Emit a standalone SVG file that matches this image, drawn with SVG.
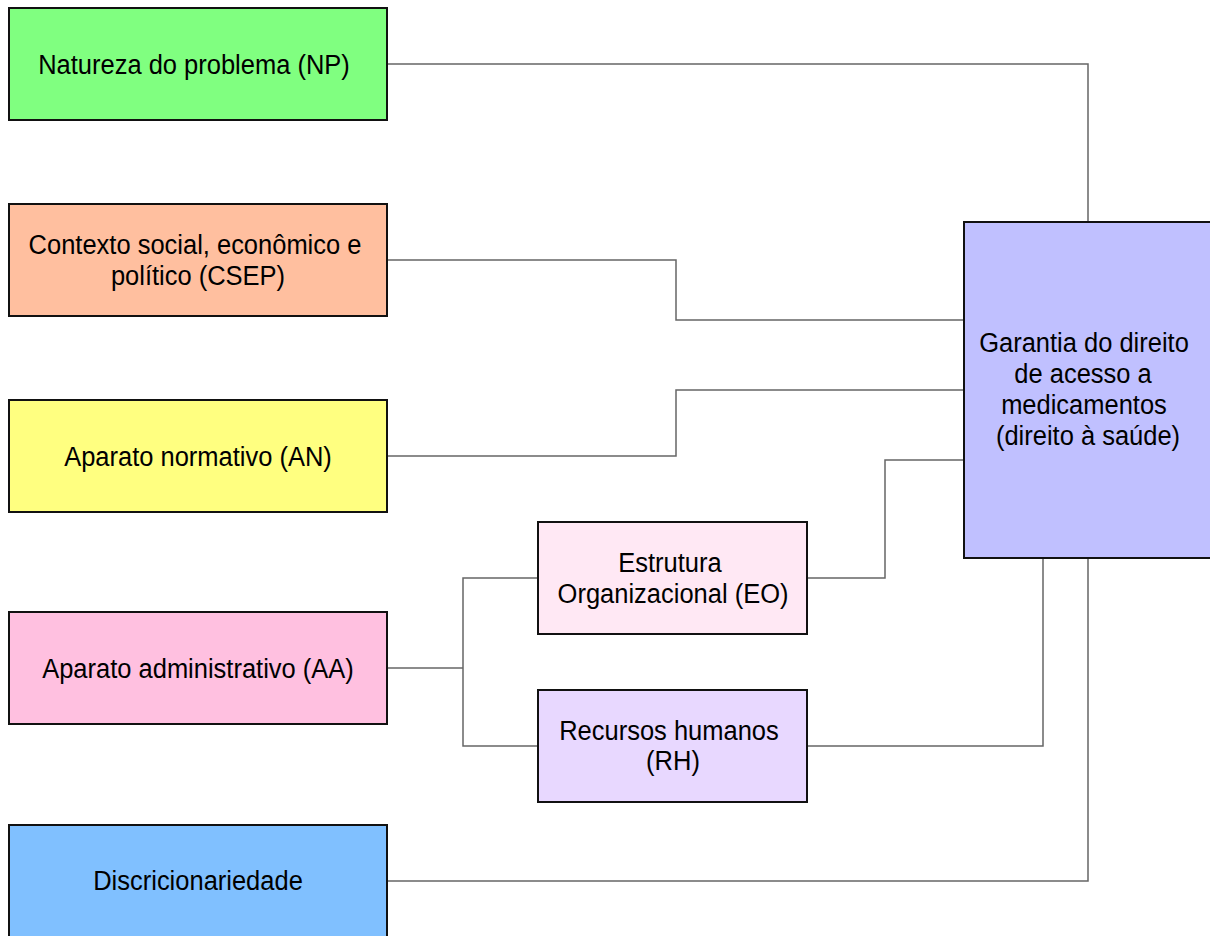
<svg xmlns="http://www.w3.org/2000/svg" width="1210" height="936" viewBox="0 0 1210 936">
<style>
.box{stroke:#111;stroke-width:2}
.t{font-family:"Liberation Sans",Arial,sans-serif;font-size:25.5px;fill:#000;text-anchor:middle}
.c{fill:none;stroke:#666;stroke-width:1.5}
</style>
<rect width="1210" height="936" fill="#fff"/>
<g id="connectors">
<polyline class="c" points="387,64 1088,64 1088,222"/>
<polyline class="c" points="387,260 676,260 676,320 964,320"/>
<polyline class="c" points="387,456 676,456 676,390 964,390"/>
<polyline class="c" points="807,578 885,578 885,460 964,460"/>
<polyline class="c" points="387,668 463,668"/>
<polyline class="c" points="538,578 463,578 463,746 538,746"/>
<polyline class="c" points="807,746 1043,746 1043,558"/>
<polyline class="c" points="387,881 1088,881 1088,558"/>
</g>
<g id="np"><rect class="box" x="9" y="8" width="378" height="112" fill="#80ff80"/><text class="t" transform="translate(194,73.5) scale(1,1.09)">Natureza do problema (NP)</text></g>
<g id="csep"><rect class="box" x="9" y="204" width="378" height="112" fill="#ffbf9f"/><text class="t" transform="translate(195,254) scale(1,1.09)">Contexto social, econômico e</text><text class="t" transform="translate(198,285) scale(1,1.09)">político (CSEP)</text></g>
<g id="an"><rect class="box" x="9" y="400" width="378" height="112" fill="#ffff80"/><text class="t" transform="translate(198,465.5) scale(1,1.09)">Aparato normativo (AN)</text></g>
<g id="aa"><rect class="box" x="9" y="612" width="378" height="112" fill="#ffc0e0"/><text class="t" transform="translate(198,677.5) scale(1,1.09)">Aparato administrativo (AA)</text></g>
<g id="disc"><rect class="box" x="9" y="825" width="378" height="130" fill="#80c0ff"/><text class="t" transform="translate(198,890) scale(1,1.09)">Discricionariedade</text></g>
<g id="eo"><rect class="box" x="538" y="522" width="269" height="112" fill="#ffe8f4"/><text class="t" transform="translate(670,572) scale(1,1.09)">Estrutura</text><text class="t" transform="translate(673,603) scale(1,1.09)">Organizacional (EO)</text></g>
<g id="rh"><rect class="box" x="538" y="690" width="269" height="112" fill="#e8d8ff"/><text class="t" transform="translate(669,740) scale(1,1.09)">Recursos humanos</text><text class="t" transform="translate(673,770) scale(1,1.09)">(RH)</text></g>
<g id="garantia"><rect class="box" x="964" y="222" width="260" height="336" fill="#c0c0ff"/><text class="t" transform="translate(1084,352) scale(1,1.09)">Garantia do direito</text><text class="t" transform="translate(1083,383) scale(1,1.09)">de acesso a</text><text class="t" transform="translate(1084,414) scale(1,1.09)">medicamentos</text><text class="t" transform="translate(1088,445) scale(1,1.09)">(direito à saúde)</text></g>
</svg>
